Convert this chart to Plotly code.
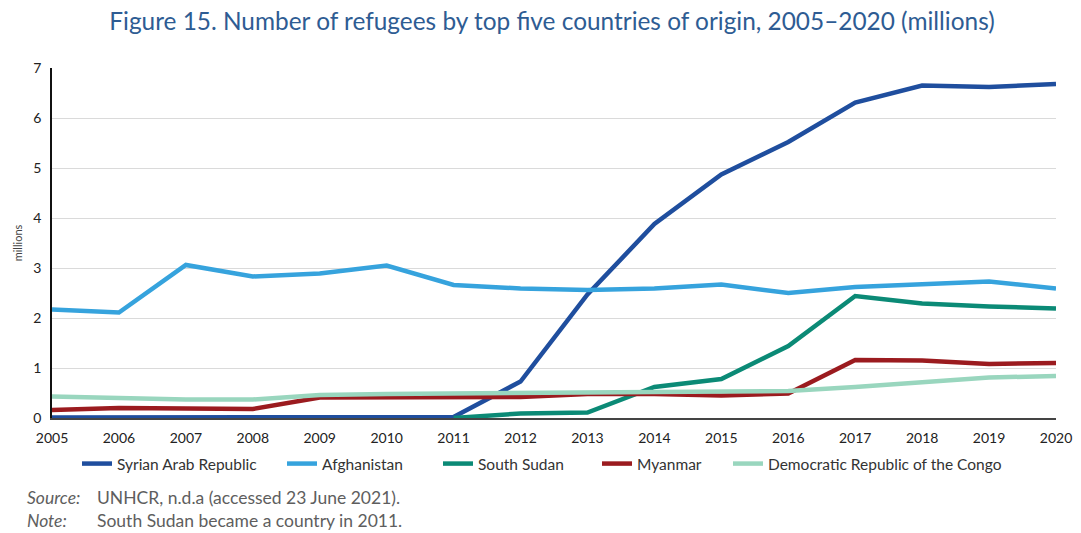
import plotly.graph_objects as go

years = list(range(2005, 2021))
syria = [0.01, 0.01, 0.01, 0.02, 0.02, 0.02, 0.02, 0.73, 2.47, 3.88, 4.87, 5.52, 6.31, 6.65, 6.62, 6.68]
afghanistan = [2.17, 2.11, 3.06, 2.83, 2.89, 3.05, 2.66, 2.59, 2.56, 2.59, 2.67, 2.50, 2.62, 2.68, 2.73, 2.59]
south_sudan = [None, None, None, None, None, None, 0.0, 0.09, 0.11, 0.62, 0.78, 1.44, 2.44, 2.29, 2.23, 2.19]
myanmar = [0.16, 0.20, 0.19, 0.18, 0.41, 0.42, 0.41, 0.42, 0.48, 0.48, 0.45, 0.49, 1.16, 1.15, 1.08, 1.10]
drc = [0.43, 0.40, 0.37, 0.37, 0.46, 0.48, 0.49, 0.51, 0.50, 0.52, 0.54, 0.54, 0.62, 0.72, 0.81, 0.84]

names = ["Syrian Arab Republic", "Afghanistan", "South Sudan", "Myanmar", "Democratic Republic of the Congo"]
series = [syria, afghanistan, south_sudan, myanmar, drc]
colors = ["#1F4E9E", "#36A3DD", "#0B8A76", "#9B1B1F", "#99D6BE"]
legend_px = [85, 290, 446, 605, 736]

font_family = "Lato, Open Sans, sans-serif"
W, H = 1081, 533
L, R, T, B = 52, 25, 68, 115
ph = H - T - B
pw = W - L - R

def px_x(px):
    return (px - L) / pw

def px_y(py):
    return (H - B - py) / ph

fig = go.Figure()
legend_layouts = {}
for i in range(5):
    key = "legend" if i == 0 else f"legend{i + 1}"
    fig.add_trace(go.Scatter(
        x=years, y=series[i], name=names[i], mode="lines",
        line=dict(color=colors[i], width=4.5), connectgaps=False,
        legend=key,
    ))
    legend_layouts[key] = dict(
        orientation="h", xref="container", x=(legend_px[i] - 8) / W, xanchor="left",
        yref="container", y=1 - 464 / H, yanchor="middle",
        font=dict(size=15.5, color="#333333"), bgcolor="rgba(0,0,0,0)",
    )

fig.update_layout(
    width=W, height=H,
    margin=dict(l=L, r=R, t=T, b=B, autoexpand=False),
    paper_bgcolor="white", plot_bgcolor="white",
    font=dict(family=font_family, color="#333333", size=13),
    title=dict(text="Figure 15. Number of refugees by top five countries of origin, 2005–2020 (millions)",
               x=552 / W, xanchor="center", y=1 - 21 / H, yanchor="middle",
               font=dict(size=24.4, color="#2E5C93", family=font_family)),
    showlegend=True,
    xaxis=dict(range=[2005, 2020], tickmode="array", tickvals=years,
               ticktext=[str(y) for y in years], showgrid=False, showline=True,
               linecolor="#444444", linewidth=1.5, zeroline=False,
               tickfont=dict(size=14, color="#222222"), ticks="", ticklabelstandoff=6,
               fixedrange=True),
    yaxis=dict(range=[0, 7], dtick=1, showgrid=True, gridcolor="#DADADA", gridwidth=1.2,
               showline=True, linecolor="#111111", linewidth=1.5, zeroline=False,
               tickfont=dict(size=14, color="#222222"), ticks="", ticklabelstandoff=6,
               fixedrange=True,
               title=dict(text="millions", font=dict(size=11, color="#444444"), standoff=8)),
    **legend_layouts,
)

note_font = dict(size=17.5, color="#5e5e5e")
fig.add_annotation(xref="paper", yref="paper", x=px_x(25), y=px_y(497), xanchor="left", yanchor="middle",
                   text="<i>Source:</i>", showarrow=False, font=note_font)
fig.add_annotation(xref="paper", yref="paper", x=px_x(95), y=px_y(497), xanchor="left", yanchor="middle",
                   text="UNHCR, n.d.a (accessed 23 June 2021).", showarrow=False, font=note_font)
fig.add_annotation(xref="paper", yref="paper", x=px_x(25), y=px_y(520), xanchor="left", yanchor="middle",
                   text="<i>Note:</i>", showarrow=False, font=note_font)
fig.add_annotation(xref="paper", yref="paper", x=px_x(95), y=px_y(520), xanchor="left", yanchor="middle",
                   text="South Sudan became a country in 2011.", showarrow=False, font=note_font)

fig.write_html("out.html", config={"displayModeBar": False},
               post_script="document.body.style.margin='0';")
